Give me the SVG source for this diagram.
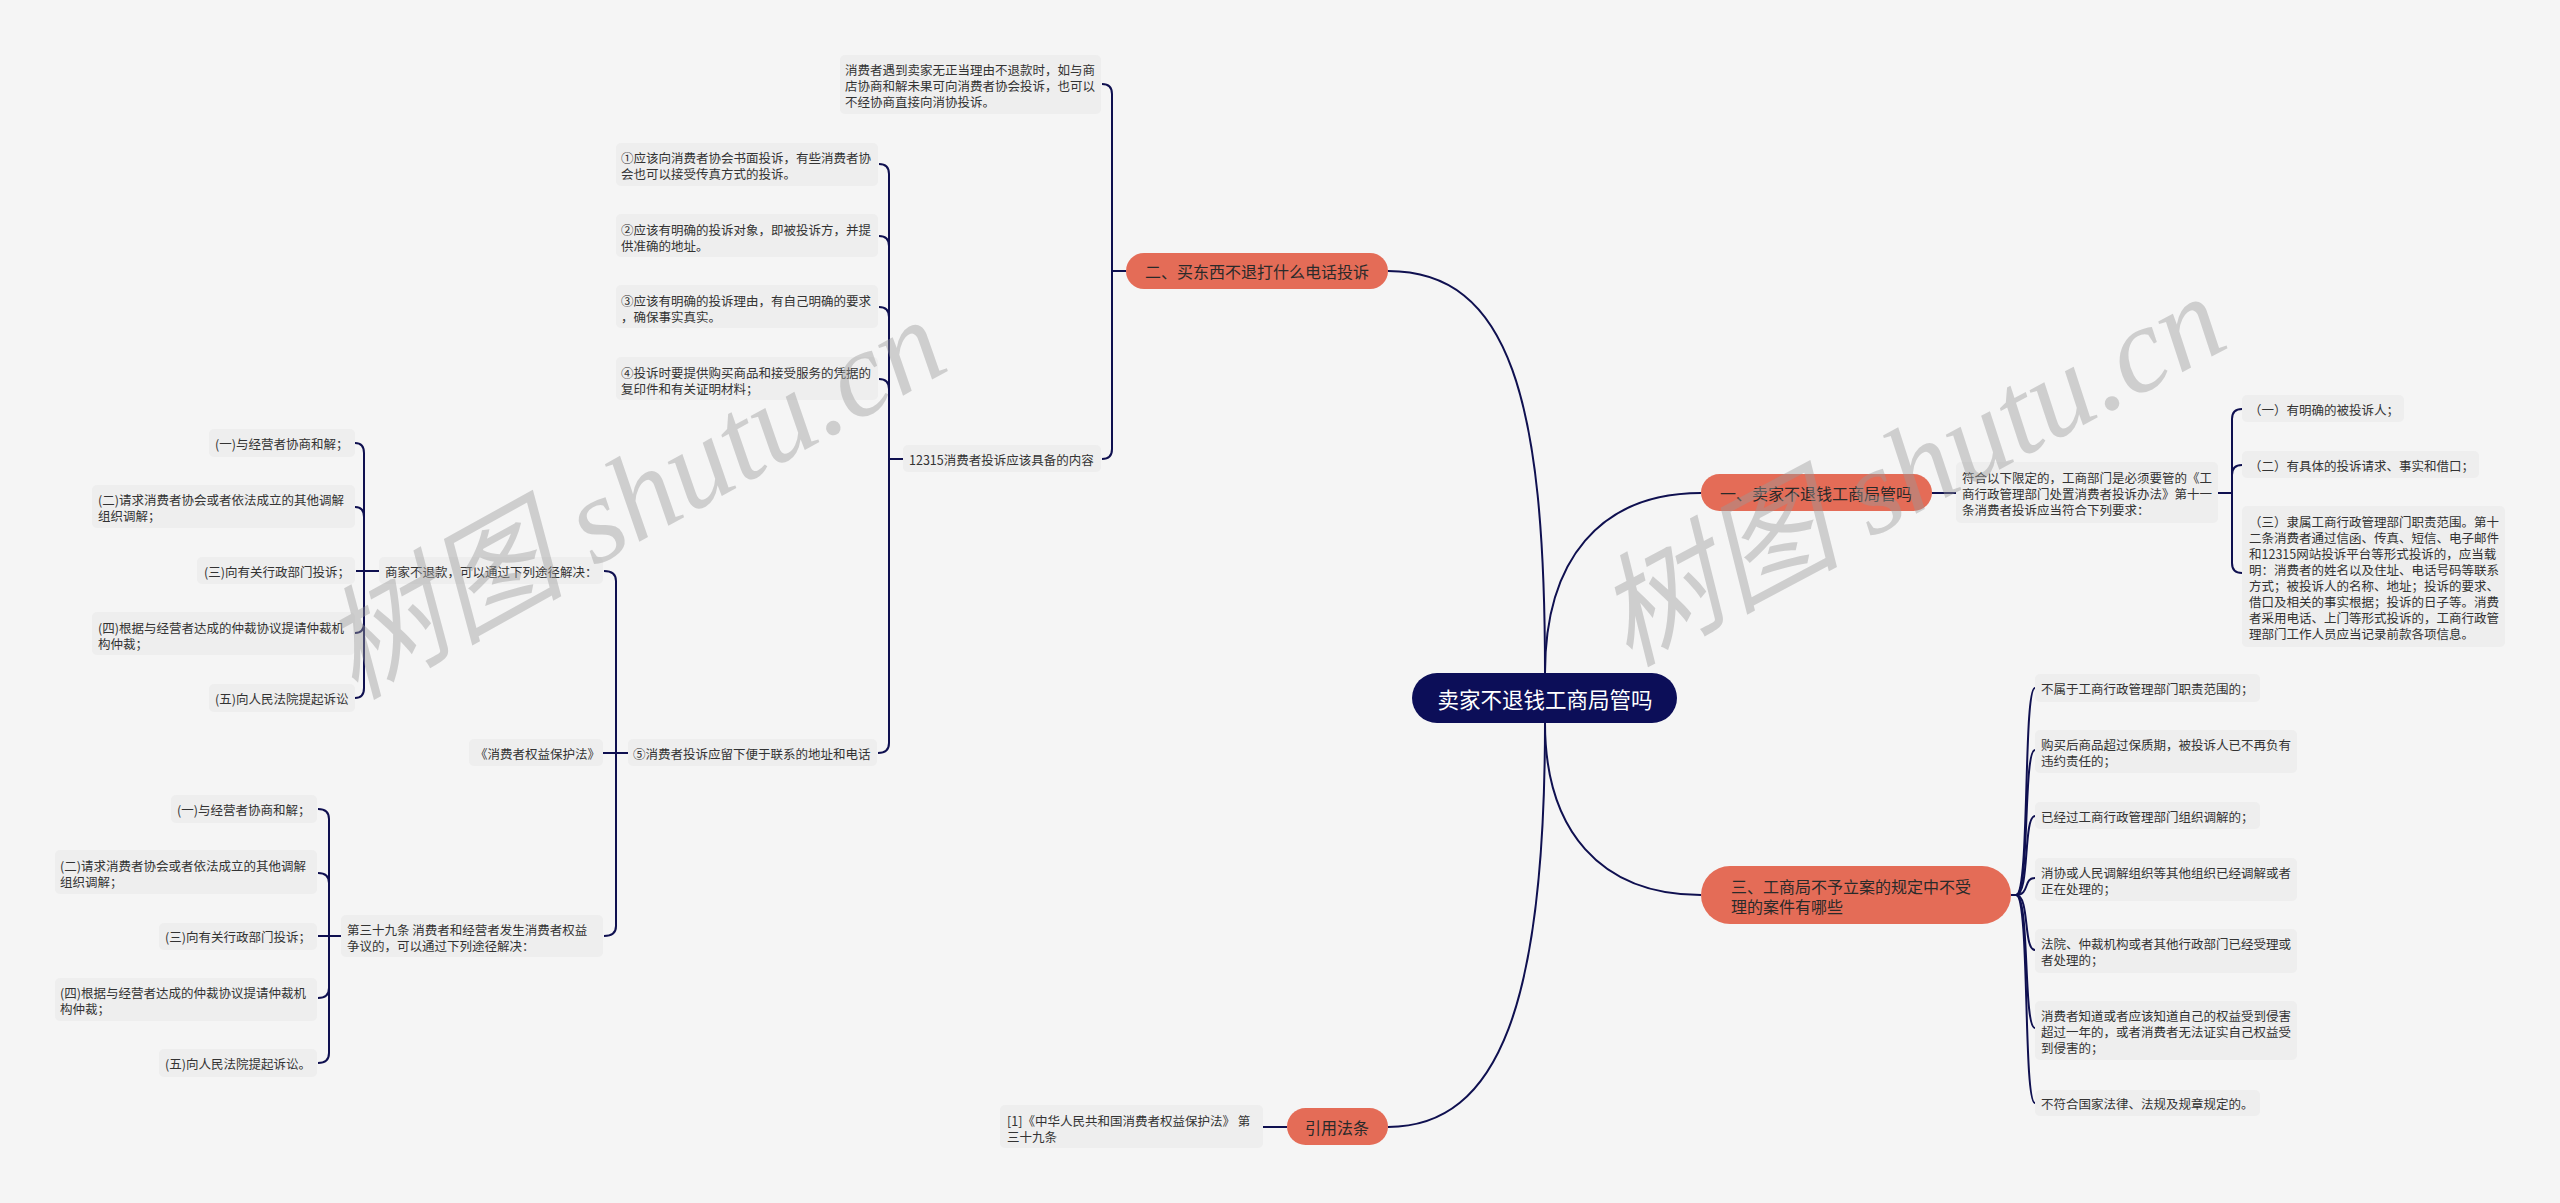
<svg xmlns="http://www.w3.org/2000/svg" width="2560" height="1203" viewBox="0 0 2560 1203">
<style>
.bg{fill:#f5f5f5}
.leaf{fill:#eeeeee}
.t{font-family:"Noto Sans CJK SC","Liberation Sans",sans-serif;font-size:12.5px;fill:#333;dominant-baseline:central}
.br{fill:#e46c57}
.bt{font-family:"Noto Sans CJK SC","Liberation Sans",sans-serif;font-size:16px;fill:#2a2a2a;dominant-baseline:central}
.rt{font-family:"Noto Sans CJK SC","Liberation Sans",sans-serif;font-size:21.5px;fill:#ffffff;dominant-baseline:central;text-anchor:middle}
.c{text-anchor:middle}
.e{fill:none;stroke:#0f1050;stroke-width:2}
.wm{font-family:"Liberation Serif","Noto Sans CJK SC",serif;font-style:italic;font-size:122px;fill:#9a9a9a;opacity:.42}
</style>
<rect class="bg" x="0" y="0" width="2560" height="1203"/>

<g id="connectors">
  <!-- root edges -->
  <path class="e" d="M1545,673 C1545,400 1510,271 1388,271"/>
  <path class="e" d="M1545,673 C1545,560 1600,493 1701,493"/>
  <path class="e" d="M1545,723 C1545,830 1600,895 1701,895"/>
  <path class="e" d="M1545,723 C1545,1000 1500,1127 1388,1127"/>
  <!-- branch 二 -->
  <path class="e" d="M1126,271 L1112,271"/>
  <path class="e" d="M1112,271 L1112,94 Q1112,84 1102,84"/>
  <path class="e" d="M1112,271 L1112,449 Q1112,459 1102,459"/>
  <!-- 12315 group -->
  <path class="e" d="M903,459 L889,459"/>
  <path class="e" d="M889,459 L889,174 Q889,164 879,164"/>
  <path class="e" d="M889,459 L889,246 Q889,236 879,236"/>
  <path class="e" d="M889,459 L889,317 Q889,307 879,307"/>
  <path class="e" d="M889,459 L889,389 Q889,379 879,379"/>
  <path class="e" d="M889,459 L889,743 Q889,753 878,753"/>
  <!-- ⑤ group -->
  <path class="e" d="M628,753 L603,753"/>
  <path class="e" d="M616,753 L616,581 Q616,571 604,571"/>
  <path class="e" d="M616,753 L616,926 Q616,936 604,936"/>
  <!-- 商家不退款 group -->
  <path class="e" d="M379,571 L356,571"/>
  <path class="e" d="M364,571 L364,453 Q364,443 355,443"/>
  <path class="e" d="M364,571 L364,517 Q364,507 355,507"/>
  <path class="e" d="M364,571 L364,623 Q364,633 355,633"/>
  <path class="e" d="M364,571 L364,688 Q364,698 355,698"/>
  <!-- 第三十九条 group -->
  <path class="e" d="M341,936 L318,936"/>
  <path class="e" d="M329,936 L329,819 Q329,809 318,809"/>
  <path class="e" d="M329,936 L329,883 Q329,873 318,873"/>
  <path class="e" d="M329,936 L329,988 Q329,998 318,998"/>
  <path class="e" d="M329,936 L329,1053 Q329,1063 318,1063"/>
  <!-- branch 一 -->
  <path class="e" d="M1932,493 L1956,493"/>
  <path class="e" d="M2218,493 L2232,493"/>
  <path class="e" d="M2232,493 L2232,419 Q2232,409 2242,409"/>
  <path class="e" d="M2232,493 L2232,475 Q2232,465 2242,465"/>
  <path class="e" d="M2232,493 L2232,563 Q2232,573 2242,573"/>
  <!-- branch 三 -->
  <path class="e" d="M2011,895 L2016,895"/>
  <path class="e" d="M2016,895 C2030,895 2023,688 2035,688"/>
  <path class="e" d="M2016,895 C2030,895 2023,750 2035,750"/>
  <path class="e" d="M2016,895 C2030,895 2023,816 2035,816"/>
  <path class="e" d="M2016,895 C2030,895 2023,878 2035,878"/>
  <path class="e" d="M2016,895 C2030,895 2023,950 2035,950"/>
  <path class="e" d="M2016,895 C2030,895 2023,1028 2035,1028"/>
  <path class="e" d="M2016,895 C2030,895 2023,1103 2035,1103"/>
  <!-- citation -->
  <path class="e" d="M1263,1127 L1287,1127"/>
</g>

<g id="root">
  <rect x="1412" y="673" width="265" height="50" rx="25" fill="#0c0e58"/>
  <text class="rt" x="1545" y="698">卖家不退钱工商局管吗</text>
</g>

<g id="b2">
  <rect class="br" x="1126" y="253" width="262" height="36" rx="18"/>
  <text class="bt c" x="1257" y="271">二、买东西不退打什么电话投诉</text>
</g>
<g id="b2-a">
  <rect class="leaf" x="840" y="55" width="261" height="59" rx="5"/>
  <text class="t" x="845" y="69">消费者遇到卖家无正当理由不退款时，如与商</text>
  <text class="t" x="845" y="85">店协商和解未果可向消费者协会投诉，也可以</text>
  <text class="t" x="845" y="101">不经协商直接向消协投诉。</text>
</g>
<g id="b2-12315">
  <rect class="leaf" x="903" y="445" width="198" height="27" rx="5"/>
  <text class="t" x="909" y="459">12315消费者投诉应该具备的内容</text>
</g>
<g id="n1">
  <rect class="leaf" x="616" y="143" width="262" height="43" rx="5"/>
  <text class="t" x="621" y="157">①应该向消费者协会书面投诉，有些消费者协</text>
  <text class="t" x="621" y="173">会也可以接受传真方式的投诉。</text>
</g>
<g id="n2">
  <rect class="leaf" x="616" y="214" width="262" height="43" rx="5"/>
  <text class="t" x="621" y="229">②应该有明确的投诉对象，即被投诉方，并提</text>
  <text class="t" x="621" y="245">供准确的地址。</text>
</g>
<g id="n3">
  <rect class="leaf" x="616" y="285" width="262" height="43" rx="5"/>
  <text class="t" x="621" y="300">③应该有明确的投诉理由，有自己明确的要求</text>
  <text class="t" x="621" y="316">，确保事实真实。</text>
</g>
<g id="n4">
  <rect class="leaf" x="616" y="357" width="262" height="43" rx="5"/>
  <text class="t" x="621" y="372">④投诉时要提供购买商品和接受服务的凭据的</text>
  <text class="t" x="621" y="388">复印件和有关证明材料；</text>
</g>
<g id="n5">
  <rect class="leaf" x="628" y="739" width="249" height="27" rx="5"/>
  <text class="t" x="633" y="753">⑤消费者投诉应留下便于联系的地址和电话</text>
</g>
<g id="law">
  <rect class="leaf" x="469" y="739" width="134" height="27" rx="5"/>
  <text class="t" x="475" y="753">《消费者权益保护法》</text>
</g>
<g id="shangjia">
  <rect class="leaf" x="379" y="557" width="224" height="27" rx="5"/>
  <text class="t" x="385" y="571">商家不退款，可以通过下列途径解决：</text>
</g>
<g id="sj1">
  <rect class="leaf" x="209" y="429" width="146" height="28" rx="5"/>
  <text class="t" x="215" y="443">(一)与经营者协商和解；</text>
</g>
<g id="sj2">
  <rect class="leaf" x="92" y="485" width="263" height="43" rx="5"/>
  <text class="t" x="98" y="499">(二)请求消费者协会或者依法成立的其他调解</text>
  <text class="t" x="98" y="515">组织调解；</text>
</g>
<g id="sj3">
  <rect class="leaf" x="197" y="557" width="158" height="27" rx="5"/>
  <text class="t" x="204" y="571">(三)向有关行政部门投诉；</text>
</g>
<g id="sj4">
  <rect class="leaf" x="92" y="612" width="263" height="43" rx="5"/>
  <text class="t" x="98" y="627">(四)根据与经营者达成的仲裁协议提请仲裁机</text>
  <text class="t" x="98" y="643">构仲裁；</text>
</g>
<g id="sj5">
  <rect class="leaf" x="209" y="684" width="146" height="28" rx="5"/>
  <text class="t" x="215" y="698">(五)向人民法院提起诉讼</text>
</g>
<g id="art39">
  <rect class="leaf" x="341" y="915" width="262" height="42" rx="5"/>
  <text class="t" x="347" y="929">第三十九条 消费者和经营者发生消费者权益</text>
  <text class="t" x="347" y="945">争议的，可以通过下列途径解决：</text>
</g>
<g id="a1">
  <rect class="leaf" x="171" y="795" width="146" height="28" rx="5"/>
  <text class="t" x="177" y="809">(一)与经营者协商和解；</text>
</g>
<g id="a2">
  <rect class="leaf" x="55" y="850" width="262" height="44" rx="5"/>
  <text class="t" x="60" y="865">(二)请求消费者协会或者依法成立的其他调解</text>
  <text class="t" x="60" y="881">组织调解；</text>
</g>
<g id="a3">
  <rect class="leaf" x="159" y="923" width="158" height="27" rx="5"/>
  <text class="t" x="165" y="936">(三)向有关行政部门投诉；</text>
</g>
<g id="a4">
  <rect class="leaf" x="55" y="978" width="262" height="43" rx="5"/>
  <text class="t" x="60" y="992">(四)根据与经营者达成的仲裁协议提请仲裁机</text>
  <text class="t" x="60" y="1008">构仲裁；</text>
</g>
<g id="a5">
  <rect class="leaf" x="159" y="1049" width="158" height="28" rx="5"/>
  <text class="t" x="165" y="1063">(五)向人民法院提起诉讼。</text>
</g>

<g id="b1">
  <rect class="br" x="1701" y="474" width="231" height="37" rx="18.5"/>
  <text class="bt c" x="1816" y="493">一、卖家不退钱工商局管吗</text>
</g>
<g id="b1-a">
  <rect class="leaf" x="1956" y="462" width="262" height="61" rx="5"/>
  <text class="t" x="1962" y="477.5">符合以下限定的，工商部门是必须要管的《工</text>
  <text class="t" x="1962" y="493.5">商行政管理部门处置消费者投诉办法》第十一</text>
  <text class="t" x="1962" y="509.5">条消费者投诉应当符合下列要求：</text>
</g>
<g id="r1">
  <rect class="leaf" x="2242" y="395" width="162" height="27" rx="5"/>
  <text class="t" x="2249" y="409">（一）有明确的被投诉人；</text>
</g>
<g id="r2">
  <rect class="leaf" x="2242" y="451" width="237" height="27" rx="5"/>
  <text class="t" x="2249" y="465">（二）有具体的投诉请求、事实和借口；</text>
</g>
<g id="r3">
  <rect class="leaf" x="2242" y="506" width="263" height="141" rx="5"/>
  <text class="t" x="2249" y="521">（三）隶属工商行政管理部门职责范围。第十</text>
  <text class="t" x="2249" y="537">二条消费者通过信函、传真、短信、电子邮件</text>
  <text class="t" x="2249" y="553">和12315网站投诉平台等形式投诉的，应当载</text>
  <text class="t" x="2249" y="569">明：消费者的姓名以及住址、电话号码等联系</text>
  <text class="t" x="2249" y="585">方式；被投诉人的名称、地址；投诉的要求、</text>
  <text class="t" x="2249" y="601">借口及相关的事实根据；投诉的日子等。消费</text>
  <text class="t" x="2249" y="617">者采用电话、上门等形式投诉的，工商行政管</text>
  <text class="t" x="2249" y="633">理部门工作人员应当记录前款各项信息。</text>
</g>

<g id="b3">
  <rect class="br" x="1701" y="866" width="310" height="58" rx="29"/>
  <text class="bt" x="1731" y="886">三、工商局不予立案的规定中不受</text>
  <text class="bt" x="1731" y="906">理的案件有哪些</text>
</g>
<g id="s1">
  <rect class="leaf" x="2035" y="674" width="225" height="28" rx="5"/>
  <text class="t" x="2041" y="688">不属于工商行政管理部门职责范围的；</text>
</g>
<g id="s2">
  <rect class="leaf" x="2035" y="730" width="262" height="43" rx="5"/>
  <text class="t" x="2041" y="744">购买后商品超过保质期，被投诉人已不再负有</text>
  <text class="t" x="2041" y="760">违约责任的；</text>
</g>
<g id="s3">
  <rect class="leaf" x="2035" y="802" width="225" height="27" rx="5"/>
  <text class="t" x="2041" y="816">已经过工商行政管理部门组织调解的；</text>
</g>
<g id="s4">
  <rect class="leaf" x="2035" y="858" width="262" height="43" rx="5"/>
  <text class="t" x="2041" y="872">消协或人民调解组织等其他组织已经调解或者</text>
  <text class="t" x="2041" y="888">正在处理的；</text>
</g>
<g id="s5">
  <rect class="leaf" x="2035" y="929" width="262" height="44" rx="5"/>
  <text class="t" x="2041" y="943">法院、仲裁机构或者其他行政部门已经受理或</text>
  <text class="t" x="2041" y="959">者处理的；</text>
</g>
<g id="s6">
  <rect class="leaf" x="2035" y="1001" width="262" height="59" rx="5"/>
  <text class="t" x="2041" y="1015">消费者知道或者应该知道自己的权益受到侵害</text>
  <text class="t" x="2041" y="1031">超过一年的，或者消费者无法证实自己权益受</text>
  <text class="t" x="2041" y="1047">到侵害的；</text>
</g>
<g id="s7">
  <rect class="leaf" x="2035" y="1090" width="225" height="26" rx="5"/>
  <text class="t" x="2041" y="1103">不符合国家法律、法规及规章规定的。</text>
</g>

<g id="b4">
  <rect class="br" x="1287" y="1108" width="101" height="37" rx="18.5"/>
  <text class="bt c" x="1337" y="1127">引用法条</text>
</g>
<g id="cite">
  <rect class="leaf" x="1000" y="1105" width="263" height="43" rx="5"/>
  <text class="t" x="1007" y="1120">[1]《中华人民共和国消费者权益保护法》 第</text>
  <text class="t" x="1007" y="1136">三十九条</text>
</g>

<g id="watermark">
  <text class="wm" x="354" y="700" transform="rotate(-29 354 700)">树图 shutu.cn</text>
  <text class="wm" x="1628" y="667" transform="rotate(-28 1628 667)">树图 shutu.cn</text>
</g>
</svg>
